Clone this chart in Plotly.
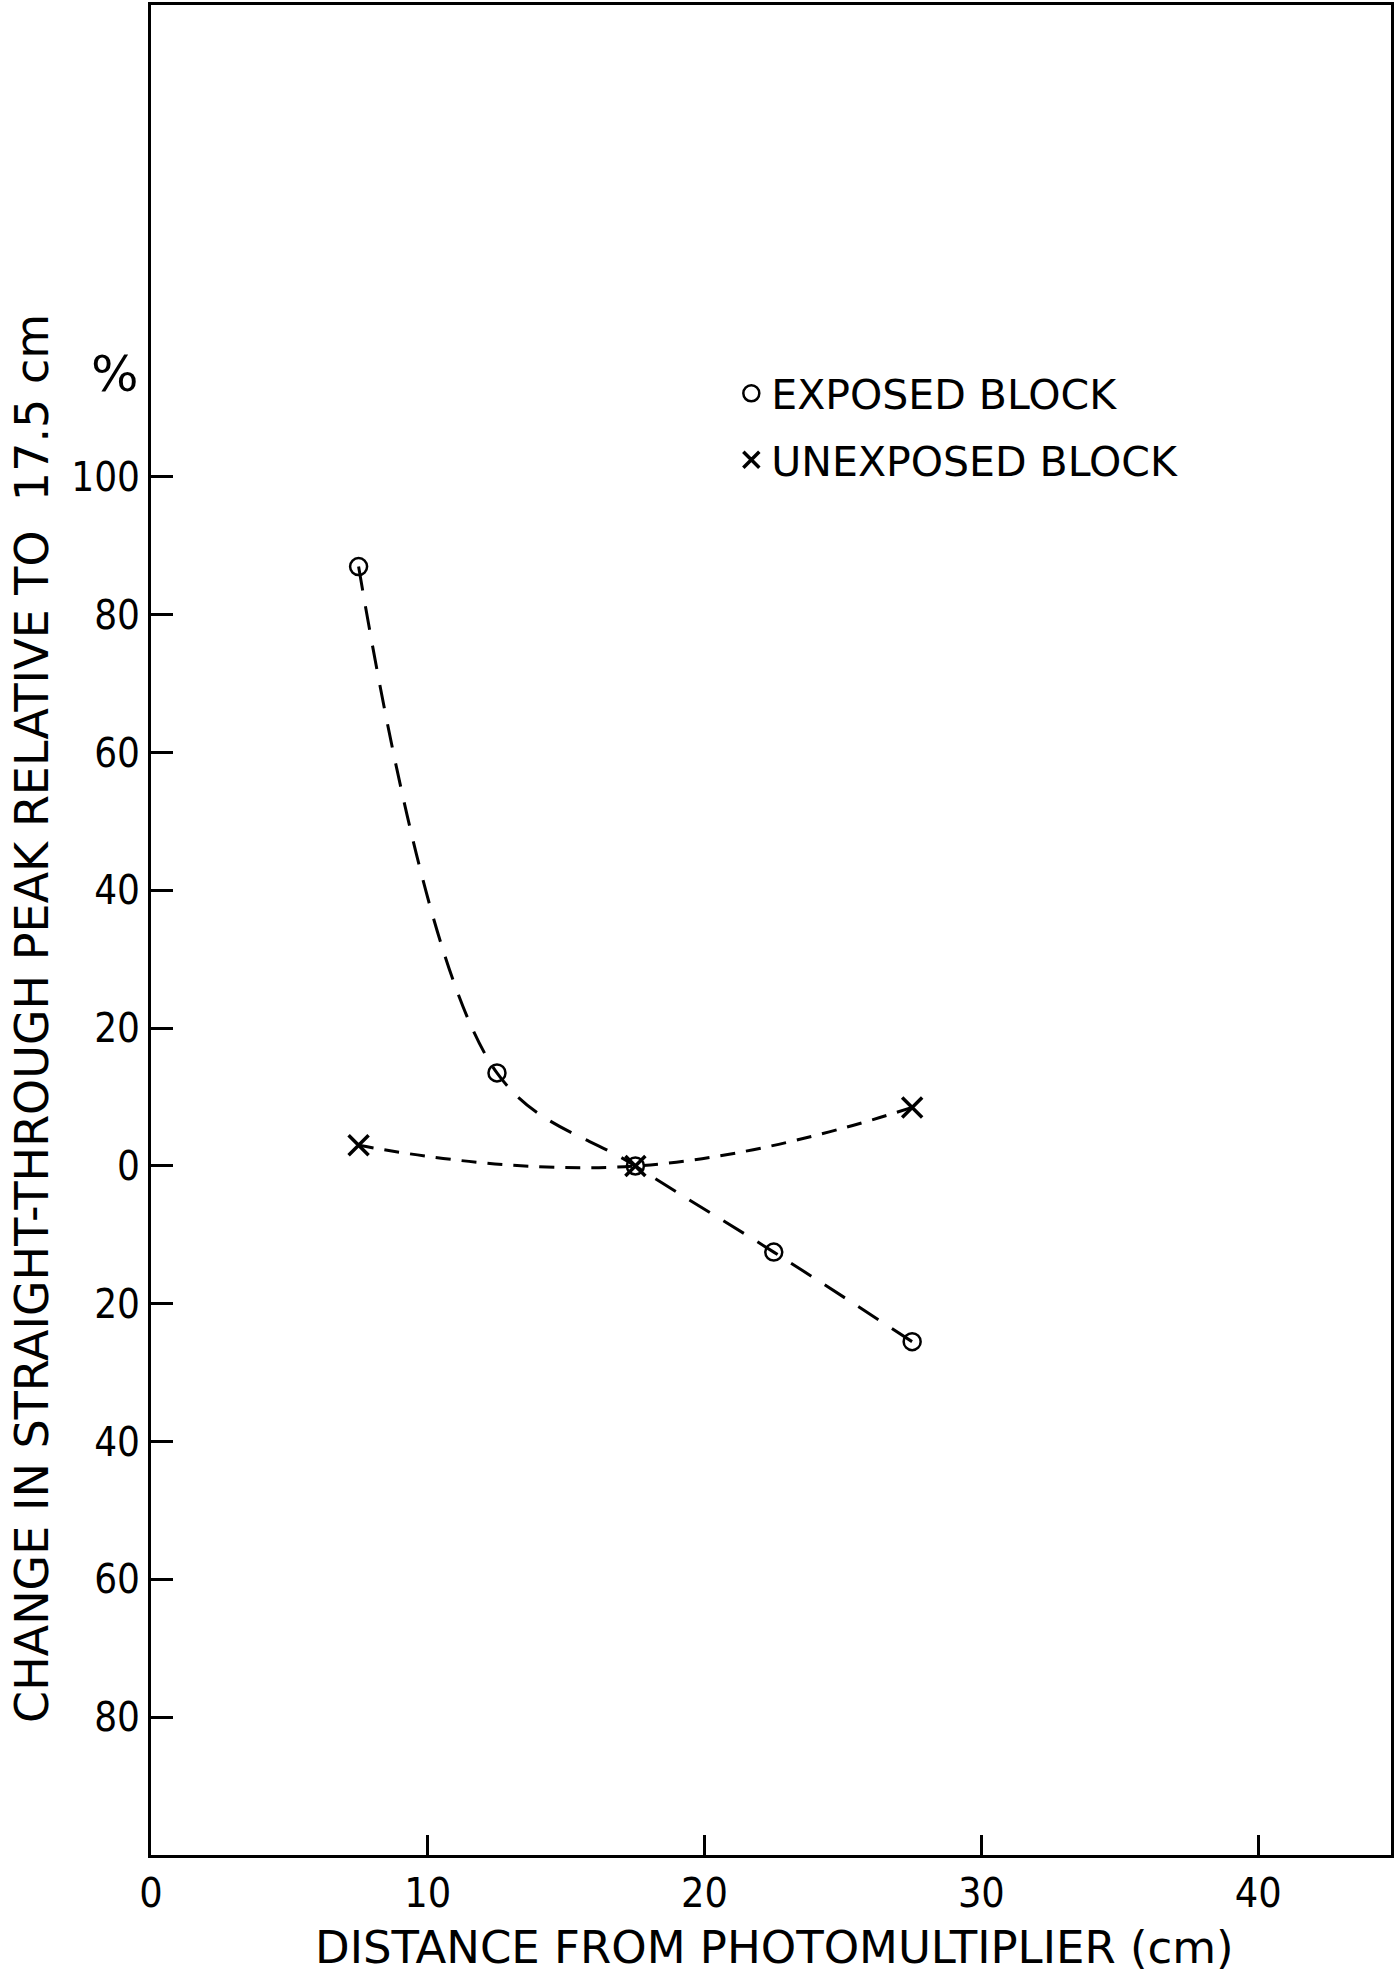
import plotly.graph_objects as go

# Data
exposed_x = [7.5, 12.5, 17.5, 22.5, 27.5]
exposed_y = [87, 13.5, 0, -12.5, -25.5]
unexposed_x = [7.5, 17.5, 27.5]
unexposed_y = [3, 0, 8.5]

x_tickvals = [0, 10, 20, 30, 40]
x_ticktext = ["0", "10", "20", "30", "40"]
y_tickvals = [100, 80, 60, 40, 20, 0, -20, -40, -60, -80]
y_ticktext = ["100", "80", "60", "40", "20", "0", "20", "40", "60", "80"]

x_title = "DISTANCE FROM PHOTOMULTIPLIER (cm)"
y_title = "CHANGE IN STRAIGHT-THROUGH PEAK RELATIVE TO  17.5 cm"

COND = "DejaVu Sans Condensed, DejaVu Sans, sans-serif"
WIDE = "DejaVu Sans, sans-serif"
INK = "black"

fig = go.Figure()

# dashed smooth curves
fig.add_trace(go.Scatter(
    x=exposed_x, y=exposed_y, mode="lines", line_shape="spline",
    line=dict(color=INK, width=3, dash="24px,16px", smoothing=1.0),
    showlegend=False, hoverinfo="skip"))
fig.add_trace(go.Scatter(
    x=unexposed_x, y=unexposed_y, mode="lines", line_shape="spline",
    line=dict(color=INK, width=3, dash="15px,11px", smoothing=1.3),
    showlegend=False, hoverinfo="skip"))

# markers (also legend entries)
fig.add_trace(go.Scatter(
    x=exposed_x, y=exposed_y, mode="markers", name="EXPOSED BLOCK", legendgroup="a",
    marker=dict(symbol="circle-open", size=17, color=INK, line=dict(width=2.5, color=INK))))
fig.add_trace(go.Scatter(
    x=unexposed_x, y=unexposed_y, mode="markers", name="UNEXPOSED BLOCK", legendgroup="b",
    marker=dict(symbol="x-thin-open", size=20, color=INK, line=dict(width=3.5, color=INK))))

fig.update_layout(
    width=1396, height=1977,
    margin=dict(l=151, r=2, t=5, b=122),
    paper_bgcolor="white", plot_bgcolor="white",
    font=dict(family=COND, color=INK, size=38),
    legend=dict(
        x=0.468, y=0.808, xanchor="left", yanchor="top",
        bgcolor="rgba(0,0,0,0)", font=dict(size=41, family=WIDE),
        itemwidth=30, tracegroupgap=10,
    ),
    xaxis=dict(
        range=[0, 44.8], tickvals=x_tickvals, ticktext=x_ticktext,
        ticks="inside", ticklen=20, tickwidth=2.5, tickcolor=INK,
        showline=True, linewidth=3, linecolor=INK, mirror=True,
        showgrid=False, zeroline=False,
        tickfont=dict(size=41, family=COND),
    ),
    yaxis=dict(
        range=[-100, 168.5], tickvals=y_tickvals, ticktext=y_ticktext,
        ticks="inside", ticklen=22, tickwidth=2.5, tickcolor=INK,
        showline=True, linewidth=3, linecolor=INK, mirror=True,
        showgrid=False, zeroline=False,
        tickfont=dict(size=40, family=COND),
    ),
    annotations=[
        dict(text="%", xref="paper", yref="y", x=0, y=115, xanchor="center",
             xshift=-36, showarrow=False, font=dict(size=50, family=WIDE)),
        dict(text=y_title, xref="paper", yref="paper", x=0, y=0.4519,
             xanchor="center", yanchor="middle", xshift=-119, textangle=-90,
             showarrow=False, font=dict(size=46, family=WIDE)),
        dict(text=x_title, xref="paper", yref="paper", x=0.5, y=0, yshift=-92,
             xanchor="center", yanchor="middle", xshift=3,
             showarrow=False, font=dict(size=45, family=WIDE)),
    ],
)

fig.write_html("out.html")
